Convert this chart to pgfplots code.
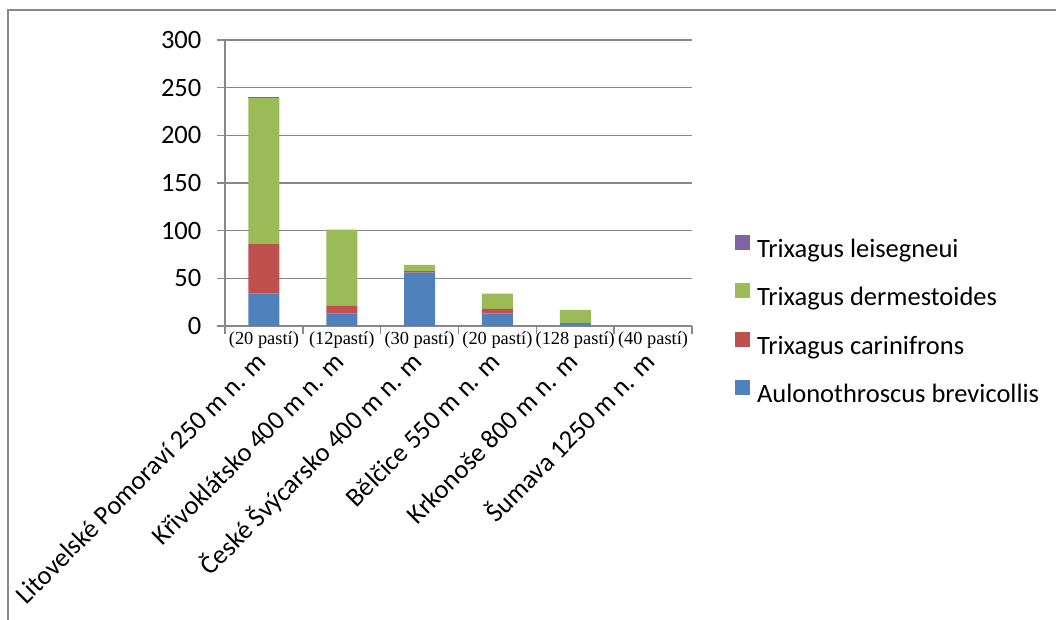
\documentclass[border=0pt]{standalone}
\usepackage{fontspec}
\setmainfont{Carlito}
\newfontfamily\serifl{Liberation Serif}
\usepackage{pgfplots}
\pgfplotsset{compat=1.18}
\definecolor{cblue}{HTML}{4F81BD}
\definecolor{cred}{HTML}{C0504D}
\definecolor{cgreen}{HTML}{9BBB59}
\definecolor{cpurple}{HTML}{8064A2}
\definecolor{lgray}{HTML}{888888}
\newcommand\bigf{\fontsize{26.5}{32}\selectfont}
\newcommand\smf{\serifl\fontsize{18.4}{22}\selectfont}
\begin{document}
\begin{tikzpicture}
\useasboundingbox (0,0) rectangle (1056pt,620pt);
\draw[lgray, line width=1.5pt] (8pt,0pt) -- (8pt,610pt) -- (1056pt,610pt);
\begin{axis}[
  at={(225pt,294pt)}, anchor=south west,
  scale only axis, width=467pt, height=286pt,
  xmin=-0.5, xmax=5.5, ymin=0, ymax=300,
  clip=false,
  ybar stacked, bar width=31pt,
  axis x line*=bottom, axis y line*=left,
  axis line style={lgray, line width=1.5pt, -},
  ytick={0,50,...,300},
  xtick={-0.5,0.5,1.5,2.5,3.5,4.5,5.5}, xticklabels={},
  tick style={lgray, line width=1.5pt},
  tick align=outside,
  major tick length=8.5pt,
  ymajorgrids, grid style={lgray, line width=1.5pt},
  /pgf/number format/assume math mode=true,
  yticklabel style={font=\bigf, inner sep=0pt, xshift=-15pt},
  reverse legend,
  legend image code/.code={\fill[#1] (0pt,1pt) rectangle (15pt,16pt);},
  legend style={draw=none, fill=none, inner sep=0pt, outer sep=0pt, font=\bigf,
    row sep=20.6pt, column sep=7pt,
    nodes={inner sep=0pt, text height=18.5pt, text depth=5.5pt},
    at={(axis description cs:1.0921,0.3199)}, anchor=north west},
  legend cell align=left,
]
\addplot[fill=cblue, draw=none] coordinates {(0,34) (1,13) (2,56) (3,13) (4,3) (5,0)};
\addplot[fill=cred, draw=none] coordinates {(0,52) (1,8) (2,1.5) (3,5) (4,0) (5,0)};
\addplot[fill=cgreen, draw=none] coordinates {(0,153) (1,80) (2,6.5) (3,16) (4,14) (5,0)};
\addplot[fill=cpurple, draw=none] coordinates {(0,1) (1,0) (2,0) (3,0) (4,0) (5,0)};
\legend{Aulonothroscus brevicollis, Trixagus carinifrons, Trixagus dermestoides, Trixagus leisegneui}
\node[font=\smf, anchor=base] at ([yshift=-19pt]axis cs:0,0) {(20 pastí)};
\node[font=\smf, anchor=base] at ([yshift=-19pt]axis cs:1,0) {(12pastí)};
\node[font=\smf, anchor=base] at ([yshift=-19pt]axis cs:2,0) {(30 pastí)};
\node[font=\smf, anchor=base] at ([yshift=-19pt]axis cs:3,0) {(20 pastí)};
\node[font=\smf, anchor=base] at ([yshift=-19pt]axis cs:4,0) {(128 pastí)};
\node[font=\smf, anchor=base] at ([yshift=-19pt]axis cs:5,0) {(40 pastí)};
\node[font=\bigf, rotate=45, anchor=base east, inner sep=0pt] at ([xshift=4pt,yshift=-37.5pt]axis cs:0,0) {Litovelské Pomoraví 250 m n. m};
\node[font=\bigf, rotate=45, anchor=base east, inner sep=0pt] at ([xshift=4pt,yshift=-37.5pt]axis cs:1,0) {Křivoklátsko 400 m n. m};
\node[font=\bigf, rotate=45, anchor=base east, inner sep=0pt] at ([xshift=4pt,yshift=-37.5pt]axis cs:2,0) {České Švýcarsko 400 m n. m};
\node[font=\bigf, rotate=45, anchor=base east, inner sep=0pt] at ([xshift=4pt,yshift=-37.5pt]axis cs:3,0) {Bělčice 550 m n. m};
\node[font=\bigf, rotate=45, anchor=base east, inner sep=0pt] at ([xshift=4pt,yshift=-37.5pt]axis cs:4,0) {Krkonoše 800 m n. m};
\node[font=\bigf, rotate=45, anchor=base east, inner sep=0pt] at ([xshift=4pt,yshift=-37.5pt]axis cs:5,0) {Šumava 1250 m n. m};
\end{axis}
\end{tikzpicture}
\end{document}
